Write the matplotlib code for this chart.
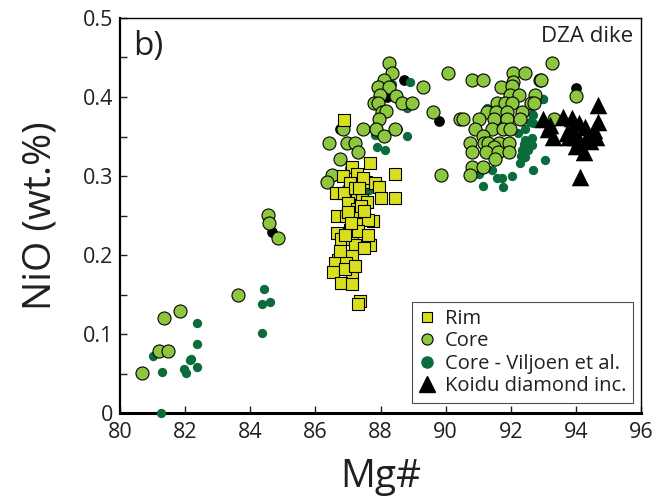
import matplotlib
matplotlib.use("Agg")
import matplotlib.pyplot as plt
from matplotlib.ticker import MultipleLocator
from matplotlib.lines import Line2D

plt.rcParams['font.family'] = ['Open Sans', 'DejaVu Sans']

rim_x = [86.88, 87.12, 87.68, 88.45, 86.85, 87.28, 87.06, 87.55, 87.83, 87.95, 86.63, 86.88,
         87.28, 88.45, 88.02, 87.00, 87.43, 87.59, 87.28, 86.66, 86.94, 87.37, 87.77, 87.28,
         87.62, 87.06, 86.66, 86.79, 87.13, 87.22, 87.68, 87.49, 87.13, 86.70, 86.60, 86.94,
         86.54, 87.13, 86.79, 87.13, 87.37, 87.31, 87.20, 87.40, 87.00, 87.50, 86.90, 87.30,
         87.60, 87.10, 86.75, 86.90, 87.20, 87.45, 87.35]
rim_y = [0.371, 0.312, 0.316, 0.303, 0.300, 0.303, 0.291, 0.292, 0.291, 0.286, 0.278, 0.278,
         0.278, 0.272, 0.272, 0.266, 0.270, 0.267, 0.258, 0.249, 0.249, 0.248, 0.243, 0.239,
         0.244, 0.232, 0.228, 0.220, 0.220, 0.213, 0.213, 0.209, 0.199, 0.194, 0.190, 0.190,
         0.178, 0.175, 0.165, 0.163, 0.142, 0.138, 0.285, 0.262, 0.255, 0.256, 0.226, 0.230,
         0.225, 0.240, 0.205, 0.182, 0.186, 0.298, 0.285]

core_x = [80.68, 81.20, 81.48, 81.36, 81.84, 83.63, 84.54, 84.59, 84.86,
          88.25, 88.36, 88.09, 87.91, 88.26, 89.30, 90.07, 88.48, 87.99, 87.81, 87.93, 88.65,
          88.97, 88.04, 88.17, 89.62, 87.96, 86.86, 87.47, 87.86, 88.43, 88.09, 86.42, 86.98,
          87.20, 87.32, 86.74, 86.52, 86.35, 89.84, 90.44,
          93.26, 92.08, 92.44, 90.80, 91.13, 92.07, 92.90, 91.69, 92.03, 91.96, 92.25, 92.75,
          91.57, 91.82, 92.03, 92.62, 91.28, 91.55, 91.87, 92.34, 90.52, 91.03, 91.47, 91.87,
          92.29, 93.31, 90.90, 91.41, 91.77, 91.96, 91.13, 90.75, 91.16, 91.31, 91.65, 91.93,
          91.47, 90.80, 91.24, 91.59, 91.93, 91.52, 90.80, 91.14, 90.75, 92.92, 94.00, 92.70]
core_y = [0.051, 0.079, 0.079, 0.121, 0.129, 0.150, 0.251, 0.241, 0.221,
          0.443, 0.431, 0.422, 0.413, 0.413, 0.413, 0.431, 0.401, 0.403, 0.393, 0.393, 0.393,
          0.393, 0.381, 0.382, 0.381, 0.372, 0.360, 0.360, 0.359, 0.360, 0.351, 0.342, 0.342,
          0.342, 0.331, 0.322, 0.301, 0.292, 0.301, 0.372,
          0.443, 0.431, 0.431, 0.422, 0.422, 0.419, 0.422, 0.413, 0.414, 0.403, 0.403, 0.403,
          0.393, 0.393, 0.392, 0.393, 0.381, 0.381, 0.381, 0.381, 0.372, 0.372, 0.372, 0.372,
          0.372, 0.372, 0.360, 0.360, 0.360, 0.360, 0.351, 0.342, 0.342, 0.342, 0.342, 0.342,
          0.337, 0.331, 0.331, 0.331, 0.331, 0.322, 0.311, 0.311, 0.301, 0.422, 0.401, 0.393]

vilj_x = [81.02, 81.30, 81.25, 81.97, 82.03, 82.15, 82.18, 82.38, 82.38, 82.38, 84.42, 84.36,
          84.60, 84.36,
          88.91, 88.34, 88.81, 88.81, 87.88, 88.14, 87.83, 87.04, 87.63, 86.95,
          93.00, 92.64, 92.59, 92.44, 92.64, 92.44, 92.34, 92.54, 92.32, 92.44, 92.29, 92.69,
          93.05, 91.72, 92.03, 91.77, 91.57, 91.41, 91.14, 91.03, 92.39, 92.23, 92.69, 91.26,
          92.98, 92.64, 92.69]
vilj_y = [0.072, 0.052, 0.000, 0.056, 0.051, 0.067, 0.068, 0.059, 0.088, 0.114, 0.157, 0.138,
          0.141, 0.102,
          0.419, 0.417, 0.386, 0.351, 0.337, 0.333, 0.352, 0.310, 0.282, 0.285,
          0.397, 0.379, 0.369, 0.360, 0.348, 0.346, 0.333, 0.333, 0.325, 0.324, 0.316, 0.308,
          0.320, 0.297, 0.300, 0.286, 0.297, 0.308, 0.287, 0.303, 0.341, 0.354, 0.367, 0.386,
          0.397, 0.339, 0.377]

black_x = [84.66, 88.73, 89.78, 88.19, 86.76, 88.50, 94.00, 91.77]
black_y = [0.229, 0.421, 0.370, 0.400, 0.360, 0.359, 0.412, 0.358]

koidu_x = [94.67, 94.69, 94.54, 93.00, 93.15, 93.29, 93.59, 93.87, 94.08, 94.28, 93.73, 93.98,
           94.23, 94.43, 94.13, 94.38, 93.87, 94.08, 93.21, 93.77, 94.60, 94.00]
koidu_y = [0.390, 0.369, 0.358, 0.372, 0.360, 0.350, 0.375, 0.373, 0.367, 0.362, 0.354, 0.350,
           0.331, 0.344, 0.299, 0.352, 0.360, 0.346, 0.365, 0.350, 0.350, 0.338]

labels = ["Rim", "Core", "Core - Viljoen et al.", "Koidu diamond inc."]
c_rim = "#d9df1f"
c_core = "#8dc63f"
c_vilj = "#0a6b3b"
c_text = "#231f20"

fig = plt.figure(figsize=(6.61, 4.99), dpi=100)
ax = fig.add_axes([0.1815, 0.172, 0.7885, 0.792])

ax.scatter(black_x, black_y, s=45, c="black", zorder=2, clip_on=False)
ax.scatter(vilj_x, vilj_y, s=45, c=c_vilj, zorder=3, clip_on=False, linewidths=0)
ax.scatter(core_x, core_y, s=88, c=c_core, edgecolors="black", linewidths=0.8, zorder=4)
ax.scatter(rim_x, rim_y, s=66, marker="s", c=c_rim, edgecolors="black", linewidths=0.8, zorder=5)
ax.scatter(koidu_x, koidu_y, s=160, marker="^", c="black", linewidths=0, zorder=6)

ax.set_xlim(80, 96)
ax.set_ylim(0, 0.5)
ax.yaxis.set_minor_locator(MultipleLocator(0.05))
ax.set_xticks([80, 82, 84, 86, 88, 90, 92, 94, 96])
ax.set_xticklabels(["80", "82", "84", "86", "88", "90", "92", "94", "96"])
ax.set_yticks([0, 0.1, 0.2, 0.3, 0.4, 0.5])
ax.set_yticklabels(["0", "0.1", "0.2", "0.3", "0.4", "0.5"])
ax.tick_params(axis="both", which="both", direction="in", length=5, width=1, labelsize=15.5,
               colors=c_text)
ax.tick_params(axis="x", pad=6)
ax.tick_params(axis="y", pad=5)

ax.spines["bottom"].set_linewidth(2.2)
ax.spines["left"].set_linewidth(1.6)
ax.spines["top"].set_linewidth(1.0)
ax.spines["right"].set_linewidth(1.0)

ax.set_xlabel("Mg#", fontsize=28, color=c_text, labelpad=11)
ax.set_ylabel("NiO (wt.%)", fontsize=28, color=c_text, labelpad=17)

ax.text(0.025, 0.97, "b)", transform=ax.transAxes, fontsize=24, va="top", ha="left",
        color=c_text)
ax.text(0.985, 0.98, "DZA dike", transform=ax.transAxes, fontsize=16, va="top", ha="right",
        color=c_text)

handles = [
    Line2D([], [], ls="none", marker="s", markersize=7, markerfacecolor=c_rim,
           markeredgecolor="black", markeredgewidth=0.8),
    Line2D([], [], ls="none", marker="o", markersize=8, markerfacecolor=c_core,
           markeredgecolor="black", markeredgewidth=0.8),
    Line2D([], [], ls="none", marker="o", markersize=8, markerfacecolor=c_vilj,
           markeredgecolor=c_vilj),
    Line2D([], [], ls="none", marker="^", markersize=11, markerfacecolor="black",
           markeredgecolor="black"),
]
leg = ax.legend(handles, labels, loc="lower right", bbox_to_anchor=(0.985, 0.025),
                fontsize=14.5, frameon=True, fancybox=False, edgecolor=c_text,
                handlelength=0.8, handletextpad=0.5, labelspacing=0.12, borderpad=0.35,
                borderaxespad=0.0)
leg.get_frame().set_linewidth(0.8)
for t in leg.get_texts():
    t.set_color(c_text)

fig.savefig("out.png", dpi=100)
